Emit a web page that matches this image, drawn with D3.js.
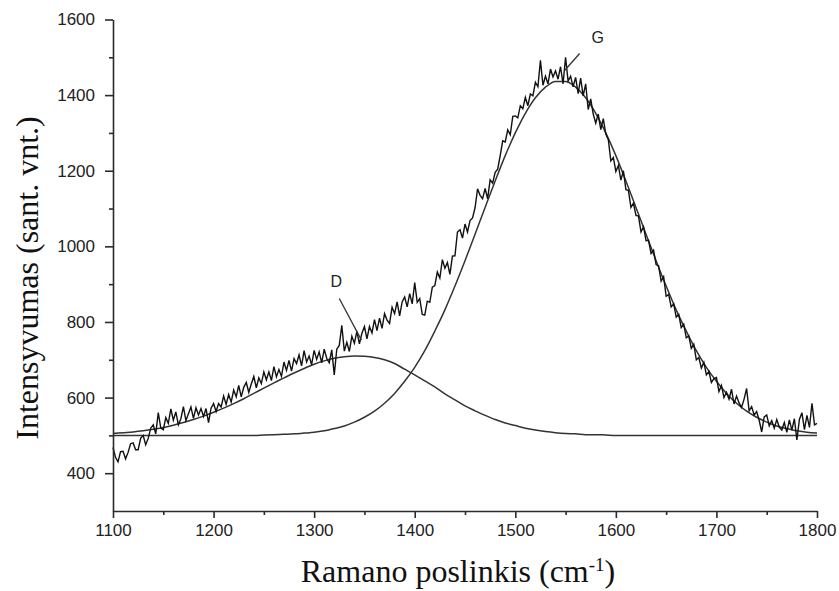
<!DOCTYPE html>
<html>
<head>
<meta charset="utf-8">
<script src="https://cdn.jsdelivr.net/npm/d3@7"></script>
<style>
  html, body { margin: 0; padding: 0; background: #fff; }
  svg { display: block; }
</style>
</head>
<body>
<svg id="chart" width="839" height="591"></svg>
<script>
// ---- data ----
const xTicks = [1100, 1200, 1300, 1400, 1500, 1600, 1700, 1800];
const xMinorTicks = [1150, 1250, 1350, 1450, 1550, 1650, 1750];
const yTicks = [400, 600, 800, 1000, 1200, 1400, 1600];
const yMinorTicks = [500, 700, 900, 1100, 1300, 1500];

// measured spectrum: Raman shift grid 1100..1800 cm-1, step 2.5
const spectrumShift = d3.range(1100, 1800.01, 2.5);
const spectrumIntensity = [
  468,442,430,457,458,438,455,478,480,462,462,492,500,475,492,519,528,504,560,520,515,
  547,532,570,540,562,528,544,576,539,557,575,545,573,554,571,550,571,534,572,584,
  563,584,575,604,582,608,588,620,602,632,602,627,640,614,636,656,626,652,637,668,
  647,668,645,682,655,674,656,694,672,698,670,703,690,713,684,724,694,710,687,725,
  701,721,692,728,704,692,726,660,728,738,791,723,746,722,762,744,775,742,770,788,
  755,788,771,806,777,810,783,822,805,796,839,822,853,816,853,866,840,875,848,904,
  852,862,820,818,855,852,892,896,932,916,965,942,957,926,974,975,1038,1044,1022,1059,
  1038,1068,1075,1102,1152,1135,1126,1153,1126,1176,1167,1196,1204,1240,1279,1276,1308,1295,1344,1345,
  1340,1372,1364,1394,1372,1403,1398,1434,1422,1492,1426,1450,1430,1469,1448,1464,1442,1475,1430,1500,
  1437,1450,1422,1447,1404,1445,1398,1430,1362,1390,1350,1326,1350,1309,1338,1297,1282,1226,1235,1198,
  1214,1175,1200,1150,1148,1103,1114,1082,1080,1038,1052,1015,1016,981,990,952,948,908,920,868,
  873,840,848,813,820,785,794,758,763,730,741,700,706,678,693,660,669,640,650,653,
  616,632,600,614,596,622,583,604,586,574,596,624,565,576,554,563,540,509,549,554,
  525,539,519,542,522,514,534,508,541,514,544,488,542,560,515,553,521,585,528,532
];

// fitted component bands, every 10 cm-1
const fitShift = [
  1100,1110,1120,1130,1140,1150,1160,1170,1180,1190,1200,1210,1220,1230,1240,1250,1260,1270,1280,1290,
  1300,1310,1320,1330,1340,1350,1360,1370,1380,1390,1400,1410,1420,1430,1440,1450,1460,1470,1480,1490,
  1500,1510,1520,1530,1540,1550,1560,1570,1580,1590,1600,1610,1620,1630,1640,1650,1660,1670,1680,1690,
  1700,1710,1720,1730,1740,1750,1760,1770,1780,1790,1800
];
const bandD = [
  505,507,509,512,516,521,527,534,542,551,561,572,584,597,611,625,639,652,665,677,
  688,697,704,708,710,709,706,700,690,675,660,644,628,610,594,578,565,553,542,533,
  526,519,514,510,507,505,504,502,502,501,500,500,500,500,500,500,500,500,500,500,
  500,500,500,500,500,500,500,500,500,500,500
];
const bandG = [
  500,500,500,500,500,500,500,500,500,500,500,500,500,500,500,501,502,503,504,506,
  508,512,518,525,535,548,564,585,611,643,680,724,776,832,895,962,1032,1103,1173,1240,
  1300,1352,1393,1421,1436,1436,1421,1393,1352,1300,1240,1173,1103,1032,962,895,832,776,724,680,
  643,611,585,564,548,535,525,518,512,508,506
];

// annotation pointers (in data coordinates)
const labels = ["D", "G"];
const labelAt = [[1322, 908], [1582, 1552]];
const pointerFrom = [[1325, 862], [1564, 1510]];
const pointerTo = [[1347, 752], [1549, 1465]];

// ---- drawing ----
const svg = d3.select("#chart");
const x = d3.scaleLinear().domain([1100, 1800]).range([113, 817]);
const y = d3.scaleLinear().domain([300, 1600]).range([511, 19.5]);

const axisColor = "#2a2a2a";

// fit curves
const fitLine = d3.line().x(d => x(d[0])).y(d => y(d[1])).curve(d3.curveMonotoneX);
[bandD, bandG].forEach(band => {
  svg.append("path")
    .datum(fitShift.map((s, i) => [s, band[i]]))
    .attr("d", fitLine)
    .attr("fill", "none")
    .attr("stroke", "#333")
    .attr("stroke-width", 1.5);
});

// measured spectrum
const n = Math.min(spectrumShift.length, spectrumIntensity.length);
const specLine = d3.line().x(d => x(d[0])).y(d => y(d[1]));
svg.append("path")
  .datum(d3.range(n).map(i => [spectrumShift[i], spectrumIntensity[i]]))
  .attr("d", specLine)
  .attr("fill", "none")
  .attr("stroke", "#111")
  .attr("stroke-width", 1.4)
  .attr("stroke-linejoin", "miter");

// axes
const gx = svg.append("g").attr("transform", `translate(0,${y(300)})`)
  .call(d3.axisBottom(x).tickValues(xTicks).tickSize(7).tickSizeOuter(0).tickPadding(6).tickFormat(d3.format("d")));
const gxm = svg.append("g").attr("transform", `translate(0,${y(300)})`)
  .call(d3.axisBottom(x).tickValues(xMinorTicks).tickSize(4).tickSizeOuter(0).tickFormat(""));
gxm.select(".domain").remove();

const gy = svg.append("g").attr("transform", `translate(${x(1100)},0)`)
  .call(d3.axisLeft(y).tickValues(yTicks).tickSize(8).tickSizeOuter(0).tickPadding(10).tickFormat(d3.format("d")));
const gym = svg.append("g").attr("transform", `translate(${x(1100)},0)`)
  .call(d3.axisLeft(y).tickValues(yMinorTicks).tickSize(4).tickSizeOuter(0).tickFormat(""));
gym.select(".domain").remove();

[gx, gxm, gy, gym].forEach(g => {
  g.selectAll("path, line").attr("stroke", axisColor).attr("stroke-width", 1.6);
  g.selectAll("text")
    .attr("fill", "#222")
    .style("font-family", "'Liberation Sans', Arial, sans-serif")
    .style("font-size", "17px");
});

// annotations
labels.forEach((t, i) => {
  svg.append("line")
    .attr("x1", x(pointerFrom[i][0])).attr("y1", y(pointerFrom[i][1]))
    .attr("x2", x(pointerTo[i][0])).attr("y2", y(pointerTo[i][1]))
    .attr("stroke", "#333").attr("stroke-width", 1.3);
  svg.append("text")
    .attr("x", x(labelAt[i][0])).attr("y", y(labelAt[i][1]))
    .attr("text-anchor", "middle").attr("dominant-baseline", "central")
    .style("font-family", "'Liberation Sans', Arial, sans-serif")
    .style("font-size", "16px")
    .attr("fill", "#222")
    .text(t);
});

// axis titles
const xt = svg.append("text")
  .attr("x", 458).attr("y", 582)
  .attr("text-anchor", "middle")
  .style("font-family", "'Liberation Serif', 'Times New Roman', serif")
  .style("font-size", "32px")
  .attr("fill", "#111");
xt.append("tspan").text("Ramano poslinkis (cm");
xt.append("tspan").attr("dy", -11).style("font-size", "19px").text("-1");
xt.append("tspan").attr("dy", 11).text(")");

svg.append("text")
  .attr("transform", "translate(38,278) rotate(-90)")
  .attr("text-anchor", "middle")
  .style("font-family", "'Liberation Serif', 'Times New Roman', serif")
  .style("font-size", "32px")
  .attr("fill", "#111")
  .text("Intensyvumas (sant. vnt.)");
</script>
</body>
</html>
